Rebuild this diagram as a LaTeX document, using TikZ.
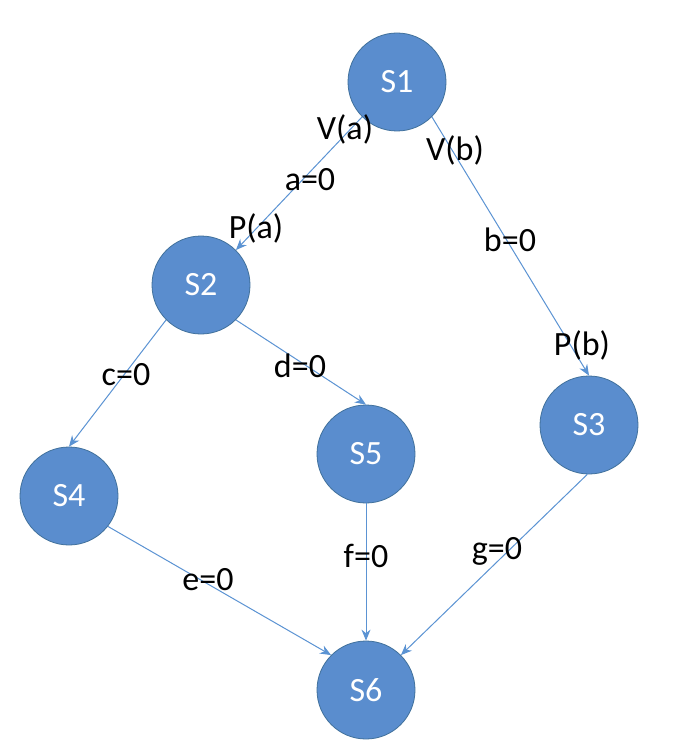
\documentclass[tikz,border=0pt]{standalone}
\usepackage{fontspec}
\setmainfont{Carlito}
\usetikzlibrary{arrows.meta}
\definecolor{nodefill}{HTML}{5A8DCE}
\definecolor{nodeedge}{HTML}{41719C}
\definecolor{edgecol}{HTML}{5B93D3}
\begin{document}
\begin{tikzpicture}[x=1pt,y=-1pt,
  state/.style={circle,fill=nodefill,draw=nodeedge,line width=0.8pt,minimum size=98pt,inner sep=0pt,text=white,font=\fontsize{34}{40}\selectfont},
  conn/.style={draw=edgecol,line width=1pt,-{Stealth[length=11pt,width=9pt]}},
  lbl/.style={font=\fontsize{34}{40}\selectfont,text=black,inner sep=1pt}]
\useasboundingbox (0,0) rectangle (693,751);
\fill[white] (0,0) rectangle (693,751);
\node[state] (s1) at (397,82) {S1};
\node[state] (s2) at (201,285) {S2};
\node[state] (s3) at (589,425) {S3};
\node[state] (s4) at (69,496) {S4};
\node[state] (s5) at (366,454) {S5};
\node[state] (s6) at (366,690) {S6};
\draw[conn] (s1.225) -- (s2.45);
\draw[conn] (s1.-45) -- (s3.north);
\draw[conn] (s2.225) -- (s4.north);
\draw[conn] (s2.-45) -- (s5.north);
\draw[conn] (s5.south) -- (s6.north);
\draw[conn] (s4.-38) -- (s6.135);
\draw[conn] (s3.-92) -- (s6.45);
\node[lbl] (va) at (345,129) {V(a)};
\node[lbl] (a0) at (310,180) {a=0};
\node[lbl] (pa) at (256,228) {P(a)};
\node[lbl] (vb) at (455,150) {V(b)};
\node[lbl] (b0) at (510,240) {b=0};
\node[lbl] (pb) at (582,345) {P(b)};
\node[lbl] (c0) at (126,375) {c=0};
\node[lbl] (d0) at (300,366) {d=0};
\node[lbl] (e0) at (208,580) {e=0};
\node[lbl] (f0) at (366,556) {f=0};
\node[lbl] (g0) at (497,551) {g=0};
\end{tikzpicture}
\end{document}
